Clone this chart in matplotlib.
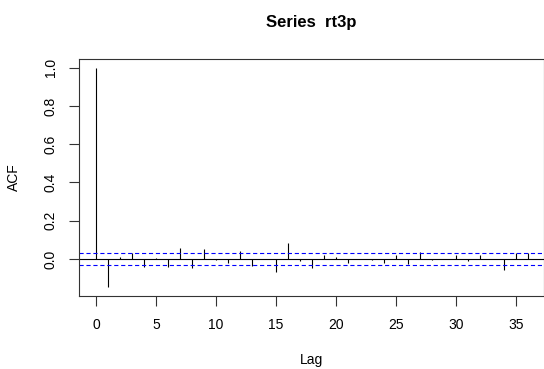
import matplotlib
matplotlib.use("Agg")
import matplotlib.pyplot as plt

plt.rcParams['font.family'] = ['Liberation Sans', 'DejaVu Sans']
plt.rcParams['lines.scale_dashes'] = False

# Data (ACF of rt3p)
lags = list(range(0, 37))
acf = [1.0, -0.148, 0.008, 0.030, -0.040, 0.006, -0.040, 0.055, -0.050, 0.050,
       -0.005, -0.020, 0.040, -0.035, 0.002, -0.070, 0.085, -0.010, -0.050, 0.020,
       0.010, -0.020, 0.002, -0.003, -0.020, 0.018, -0.025, 0.035, -0.008, 0.002,
       0.020, -0.010, 0.018, 0.002, -0.060, 0.030, 0.030]
ci = 0.031
x_ticks = [0, 5, 10, 15, 20, 25, 30, 35]
y_ticks = [0.0, 0.2, 0.4, 0.6, 0.8, 1.0]
y_labels = ["0.0", "0.2", "0.4", "0.6", "0.8", "1.0"]

fig = plt.figure(figsize=(5.44, 3.69), dpi=100)
ax = fig.add_axes([0.1447, 0.1978, 0.8544, 0.6423])

# spikes, zero line and confidence band
ax.vlines(lags, 0, acf, colors='black', linewidth=0.8)
ax.axhline(0, color='black', linewidth=0.8)
ax.axhline(ci, color='blue', linewidth=0.8, linestyle=(0, (3, 2)))
ax.axhline(-ci, color='blue', linewidth=0.8, linestyle=(0, (3, 2)))

ax.set_xlim(-1.44, 37.29)
ax.set_ylim(-0.194, 1.046)

ax.set_xticks(x_ticks)
ax.set_yticks(y_ticks)
ax.set_yticklabels(y_labels, rotation=90, va='center')
ax.tick_params(axis='both', direction='out', length=7, width=0.8, labelsize=10, color='#333333')
ax.tick_params(axis='x', pad=9)
ax.tick_params(axis='y', pad=8)

for s in ax.spines.values():
    s.set_linewidth(0.8)
    s.set_color('#333333')

ax.set_xlabel('Lag', fontsize=10)
ax.xaxis.set_label_coords(0.5, -0.24)
ax.set_ylabel('ACF', fontsize=10)
ax.yaxis.set_label_coords(-0.124, 0.5)
ax.set_title('Series  rt3p', fontsize=12, fontweight='bold', pad=23)

fig.savefig('out.png', dpi=100)
